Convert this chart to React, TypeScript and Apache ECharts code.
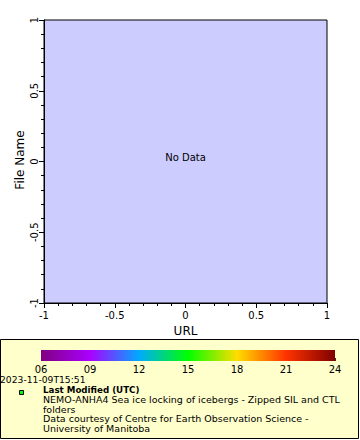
import React, { useEffect, useRef } from "react";
import * as echarts from "echarts";

// Main plot (no data)
const xRange = [-1, 1];
const yRange = [-1, 1];
const points: [number, number][] = [];
const xTitle = "URL";
const yTitle = "File Name";
const noDataText = "No Data";

// Colorbar
const cbarMin = 6;
const cbarMax = 24;
const cbarTicks = [6, 9, 12, 15, 18, 21, 24];
const cbarStopValues = [6, 9, 12, 15, 18, 19.5, 21, 24];
const cbarStopColors = ["#800080", "#aa00ff", "#00aaff", "#00ff00", "#ffdd00", "#ff8800", "#ff3300", "#800000"];

// Legend texts
const dateText = "2023-11-09T15:51";
const legendTitle = "Last Modified (UTC)";
const legendLines = [
  "NEMO-ANHA4 Sea ice locking of icebergs - Zipped SIL and CTL",
  "folders",
  "Data courtesy of Centre for Earth Observation Science -",
  "University of Manitoba",
];

const FONT = "DejaVu Sans";

export default function App() {
  const ref = useRef<HTMLDivElement>(null);
  useEffect(() => {
    document.body.style.margin = "0";
    if (!ref.current) return;
    const chart = echarts.init(ref.current, undefined, { renderer: "svg" });
    const stops = cbarStopValues.map((v, i) => ({
      offset: (v - cbarMin) / (cbarMax - cbarMin),
      color: cbarStopColors[i],
    }));
    const fmt = (v: number) => String(Math.round(v * 10) / 10);
    const option: any = {
      animation: false,
      backgroundColor: "#ffffff",
      grid: [
        {
          left: 44,
          top: 20,
          width: 283,
          height: 283,
          show: true,
          backgroundColor: "#ccccff",
          borderColor: "#000",
          borderWidth: 1,
        },
        { left: 41, top: 350, width: 294, height: 11, show: false },
      ],
      xAxis: [
        {
          type: "value",
          gridIndex: 0,
          min: xRange[0],
          max: xRange[1],
          interval: 0.5,
          name: xTitle,
          nameLocation: "middle",
          nameGap: 21,
          nameTextStyle: { color: "#000", fontSize: 12, fontFamily: FONT },
          axisLine: { show: true, onZero: false, lineStyle: { color: "#000", width: 1 } },
          axisTick: { show: true, length: 5, lineStyle: { color: "#000" } },
          minorTick: { show: true, splitNumber: 5, length: 3, lineStyle: { color: "#000" } },
          splitLine: { show: false },
          axisLabel: { color: "#000", fontSize: 10, fontFamily: FONT, margin: 7, formatter: fmt },
        },
        {
          type: "value",
          gridIndex: 1,
          min: cbarMin,
          max: cbarMax,
          interval: 3,
          axisLine: { show: false, onZero: false },
          axisTick: { show: true, inside: true, length: 3, lineStyle: { color: "#333" } },
          splitLine: { show: false },
          axisLabel: {
            color: "#000",
            fontSize: 10,
            fontFamily: FONT,
            margin: 3,
            formatter: (v: number) => (cbarTicks.includes(v) ? String(v).padStart(2, "0") : ""),
          },
        },
      ],
      yAxis: [
        {
          type: "value",
          gridIndex: 0,
          min: yRange[0],
          max: yRange[1],
          interval: 0.5,
          axisLine: { show: true, onZero: false, lineStyle: { color: "#000", width: 1 } },
          axisTick: { show: true, length: 5, lineStyle: { color: "#000" } },
          minorTick: { show: true, splitNumber: 5, length: 3, lineStyle: { color: "#000" } },
          splitLine: { show: false },
          axisLabel: { color: "#000", fontSize: 10, fontFamily: FONT, margin: 5, rotate: 90, formatter: fmt },
        },
        { type: "value", gridIndex: 1, min: 0, max: 1, show: false },
      ],
      series: [
        {
          type: "scatter",
          xAxisIndex: 0,
          yAxisIndex: 0,
          data: points,
          symbolSize: 4,
        },
        {
          type: "custom",
          xAxisIndex: 1,
          yAxisIndex: 1,
          data: [[cbarMin, cbarMax]],
          renderItem: (params: any, api: any) => {
            const p0 = api.coord([api.value(0), 1]);
            const p1 = api.coord([api.value(1), 0]);
            return {
              type: "rect",
              shape: { x: p0[0], y: p0[1], width: p1[0] - p0[0], height: p1[1] - p0[1] },
              style: { fill: new echarts.graphic.LinearGradient(0, 0, 1, 0, stops) },
            };
          },
        },
      ],
      graphic: [
        {
          type: "rect",
          z: -10,
          shape: { x: 0.5, y: 339.5, width: 358, height: 99 },
          style: { fill: "#ffffcc", stroke: "#000", lineWidth: 1 },
        },
        {
          type: "text",
          x: 20,
          y: 160,
          rotation: Math.PI / 2,
          style: { text: yTitle, font: `12px "${FONT}"`, fill: "#000", align: "center", verticalAlign: "middle" },
        },
        {
          type: "text",
          x: 185.5,
          y: 157,
          style: { text: noDataText, font: `10px "${FONT}"`, fill: "#000", align: "center", verticalAlign: "middle" },
        },
        {
          type: "text",
          x: 0,
          y: 379,
          style: { text: dateText, font: `9.2px "${FONT}"`, fill: "#000", align: "left", verticalAlign: "middle" },
        },
        {
          type: "rect",
          shape: { x: 19.5, y: 390.5, width: 4, height: 4 },
          style: { fill: "#00ff00", stroke: "#000", lineWidth: 1 },
        },
        {
          type: "text",
          x: 43,
          y: 390,
          style: { text: legendTitle, font: `bold 8.7px "${FONT}"`, fill: "#000", align: "left", verticalAlign: "middle" },
        },
        ...legendLines.map((t, i) => ({
          type: "text",
          x: 43,
          y: 399.5 + i * 9.5,
          style: { text: t, font: `9.5px "${FONT}"`, fill: "#000", align: "left", verticalAlign: "middle" },
        })),
      ],
    };
    chart.setOption(option);
    return () => chart.dispose();
  }, []);
  return <div ref={ref} style={{ width: 360, height: 440 }} />;
}
